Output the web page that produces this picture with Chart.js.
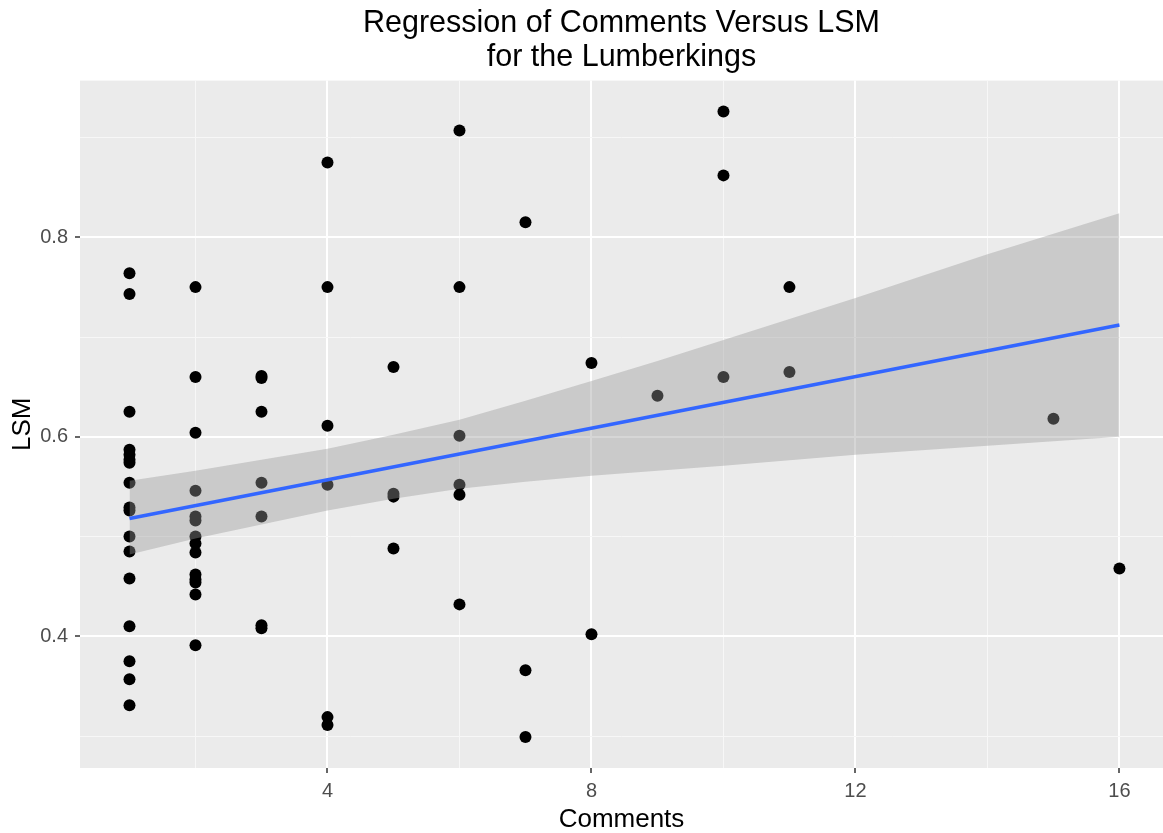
<!DOCTYPE html>
<html>
<head>
<meta charset="utf-8">
<title>Regression of Comments Versus LSM</title>
<script src="https://cdn.jsdelivr.net/npm/chart.js@4.4.1/dist/chart.umd.min.js"></script>
<style>
  html, body { margin: 0; padding: 0; background: #ffffff; }
  #chart { display: block; }
</style>
</head>
<body>
<canvas id="chart" width="1163" height="833"></canvas>
<script>
const comments = [
    1, 1, 1, 1, 1, 1, 1, 1, 1, 1, 1, 1, 1, 1, 1, 1, 1,
    2, 2, 2, 2, 2, 2, 2, 2, 2, 2, 2, 2, 2, 2,
    3, 3, 3, 3, 3, 3, 3,
    4, 4, 4, 4, 4, 4,
    5, 5, 5, 5,
    6, 6, 6, 6, 6, 6,
    7, 7, 7,
    8, 8,
    9,
    10, 10, 10,
    11, 11,
    15,
    16
];
const lsm = [
    0.764, 0.743, 0.625, 0.587, 0.582, 0.577, 0.574, 0.554, 0.529, 0.526, 0.500, 0.485, 0.458, 0.410, 0.375, 0.357, 0.331,
    0.750, 0.660, 0.604, 0.546, 0.520, 0.516, 0.500, 0.493, 0.484, 0.462, 0.457, 0.454, 0.442, 0.391,
    0.661, 0.659, 0.625, 0.554, 0.520, 0.411, 0.408,
    0.875, 0.750, 0.611, 0.552, 0.319, 0.311,
    0.670, 0.543, 0.540, 0.488,
    0.907, 0.750, 0.601, 0.552, 0.542, 0.432,
    0.815, 0.366, 0.299,
    0.674, 0.402,
    0.641,
    0.926, 0.862, 0.660,
    0.750, 0.665,
    0.618,
    0.468
];

// Fitted lm line and its 95% confidence band
const fitX = [1, 16];
const fitY = [0.518, 0.712];
const bandX = [1, 2, 3, 4, 5, 6, 7, 8, 9, 10, 12, 14, 16];
const bandLow = [0.482, 0.498, 0.512, 0.526, 0.538, 0.548, 0.555, 0.561, 0.566, 0.571, 0.582, 0.591, 0.600];
const bandHigh = [0.556, 0.566, 0.577, 0.588, 0.602, 0.617, 0.636, 0.656, 0.676, 0.697, 0.739, 0.783, 0.824];

// Axis breaks
const xBreaks = [2, 4, 6, 8, 10, 12, 14, 16];
const xLabelled = [4, 8, 12, 16];
const yBreaks = [0.3, 0.4, 0.5, 0.6, 0.7, 0.8, 0.9];
const yLabelled = [0.4, 0.6, 0.8];

const FONT = "'Liberation Sans', Arial, Helvetica, sans-serif";

function toXY(xs, ys) {
    return xs.map((x, i) => ({ x: x, y: ys[i] }));
}

// grey panel behind the grid, like theme_grey()
const panelBackground = {
    id: 'panelBackground',
    beforeDraw(chart) {
        const { ctx, chartArea } = chart;
        ctx.save();
        ctx.fillStyle = '#ffffff';
        ctx.fillRect(0, 0, chart.width, chart.height);
        ctx.fillStyle = '#EBEBEB';
        ctx.fillRect(chartArea.left, chartArea.top,
            chartArea.right - chartArea.left, chartArea.bottom - chartArea.top);
        ctx.restore();
    }
};

function gridOptions(labelled) {
    return {
        color: (c) => labelled.includes(c.tick.value) ? '#FFFFFF' : '#F7F7F7',
        lineWidth: (c) => labelled.includes(c.tick.value) ? 2 : 1,
        drawTicks: true,
        tickLength: 5,
        tickWidth: 1.5,
        tickColor: (c) => labelled.includes(c.tick.value) ? '#333333' : 'rgba(0,0,0,0)'
    };
}

new Chart(document.getElementById('chart'), {
    type: 'scatter',
    data: {
        datasets: [
            {
                label: 'fit',
                data: toXY(fitX, fitY),
                showLine: true,
                borderColor: '#3366FF',
                borderWidth: 3.5,
                pointRadius: 0,
                fill: false,
                order: 0
            },
            {
                label: 'upper',
                data: toXY(bandX, bandHigh),
                showLine: true,
                borderColor: 'rgba(0,0,0,0)',
                borderWidth: 1,
                pointRadius: 0,
                backgroundColor: 'rgba(153,153,153,0.4)',
                fill: '+1',
                order: 1
            },
            {
                label: 'lower',
                data: toXY(bandX, bandLow),
                showLine: true,
                borderColor: 'rgba(0,0,0,0)',
                borderWidth: 1,
                pointRadius: 0,
                fill: false,
                order: 2
            },
            {
                label: 'points',
                data: toXY(comments, lsm),
                pointRadius: 6,
                pointHoverRadius: 6,
                pointBackgroundColor: '#000000',
                pointBorderWidth: 0,
                order: 3
            }
        ]
    },
    options: {
        responsive: false,
        animation: false,
        events: [],
        layout: { padding: 0, autoPadding: false },
        plugins: {
            legend: { display: false },
            tooltip: { enabled: false },
            title: {
                display: true,
                fullSize: false,
                text: ['Regression of Comments Versus LSM', 'for the Lumberkings'],
                color: '#000000',
                font: { family: FONT, size: 30.5, weight: 'normal', lineHeight: 1.1 },
                padding: { top: 7, bottom: 6.5 }
            }
        },
        scales: {
            x: {
                type: 'linear',
                min: 0.25,
                max: 16.66,
                afterBuildTicks: (scale) => {
                    scale.ticks = xBreaks.map(v => ({ value: v }));
                },
                afterFit: (scale) => { scale.height = 65; },
                border: { display: false },
                grid: gridOptions(xLabelled),
                ticks: {
                    color: '#4D4D4D',
                    font: { family: FONT, size: 20 },
                    padding: 6,
                    maxRotation: 0,
                    autoSkip: false,
                    callback: (v) => xLabelled.includes(v) ? String(v) : ''
                },
                title: {
                    display: true,
                    text: 'Comments',
                    color: '#000000',
                    font: { family: FONT, size: 26, lineHeight: 1 },
                    padding: { top: 0, bottom: 0 }
                }
            },
            y: {
                type: 'linear',
                min: 0.268,
                max: 0.957,
                afterBuildTicks: (scale) => {
                    scale.ticks = yBreaks.map(v => ({ value: v }));
                },
                afterFit: (scale) => { scale.width = 80; },
                border: { display: false },
                grid: gridOptions(yLabelled),
                ticks: {
                    color: '#4D4D4D',
                    font: { family: FONT, size: 20 },
                    padding: 7,
                    autoSkip: false,
                    callback: (v) => yLabelled.includes(v) ? v.toFixed(1) : ''
                },
                title: {
                    display: true,
                    text: 'LSM',
                    color: '#000000',
                    font: { family: FONT, size: 26, lineHeight: 1 },
                    padding: { top: 10, bottom: 0 }
                }
            }
        }
    },
    plugins: [panelBackground]
});
</script>
</body>
</html>
